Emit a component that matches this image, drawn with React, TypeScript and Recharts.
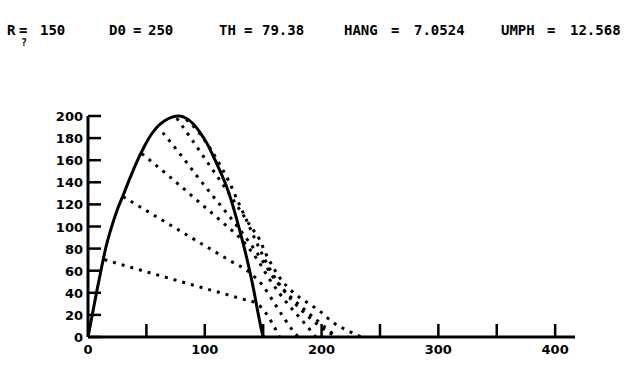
import React from 'react';
import { LineChart, Line, XAxis, YAxis } from 'recharts';

const headerTokens = [
  { t: 'R', x: 7 }, { t: '=', x: 19 }, { t: '150', x: 40 },
  { t: 'D0', x: 109 }, { t: '=', x: 133 }, { t: '250', x: 148 },
  { t: 'TH', x: 219 }, { t: '=', x: 244 }, { t: '79.38', x: 262 },
  { t: 'HANG', x: 344 }, { t: '=', x: 391 }, { t: '7.0524', x: 414 },
  { t: 'UMPH', x: 501 }, { t: '=', x: 547 }, { t: '12.568', x: 570 },
];

const xTicks = [0, 50, 100, 150, 200, 250, 300, 350, 400];
const xLabels = [0, 100, 200, 300, 400];
const yTicks = [0, 20, 40, 60, 80, 100, 120, 140, 160, 180, 200];

const outline = [
  { x: 0, y: 0 }, { x: 4, y: 22 }, { x: 8, y: 44 }, { x: 12, y: 65 }, { x: 16, y: 84 },
  { x: 20, y: 99 }, { x: 25, y: 115 }, { x: 30, y: 128 }, { x: 36, y: 144 }, { x: 42, y: 159 },
  { x: 48, y: 172 }, { x: 54, y: 183 }, { x: 60, y: 191 }, { x: 66, y: 196 }, { x: 72, y: 199 },
  { x: 78, y: 200 }, { x: 84, y: 198 }, { x: 90, y: 193 }, { x: 96, y: 185 }, { x: 102, y: 175 },
  { x: 108, y: 162 }, { x: 114, y: 148 }, { x: 119, y: 135 }, { x: 124, y: 119 }, { x: 128, y: 104 },
  { x: 133, y: 84 }, { x: 138, y: 62 }, { x: 142, y: 42 }, { x: 145, y: 25 }, { x: 148, y: 9 }, { x: 150, y: 0 },
];

const pathA = [
  { x: 14, y: 70 }, { x: 60, y: 56 }, { x: 100, y: 44 }, { x: 130, y: 35 }, { x: 145, y: 30 },
  { x: 152, y: 22 }, { x: 158, y: 12 }, { x: 164, y: 0 },
];
const pathB = [
  { x: 30, y: 127 }, { x: 60, y: 108 }, { x: 90, y: 89 }, { x: 120, y: 70 }, { x: 140, y: 57 },
  { x: 150, y: 46 }, { x: 160, y: 30 }, { x: 168, y: 17 }, { x: 176, y: 5 }, { x: 180, y: 0 },
];
const pathC = [
  { x: 46, y: 166 }, { x: 70, y: 145 }, { x: 93, y: 124 }, { x: 115, y: 104 }, { x: 135, y: 84 },
  { x: 145, y: 70 }, { x: 155, y: 53 }, { x: 165, y: 38 }, { x: 175, y: 25 }, { x: 185, y: 13 }, { x: 195, y: 0 },
];
const pathD = [
  { x: 64, y: 185 }, { x: 80, y: 164 }, { x: 96, y: 142 }, { x: 112, y: 121 }, { x: 128, y: 100 },
  { x: 140, y: 83 }, { x: 150, y: 68 }, { x: 160, y: 52 }, { x: 170, y: 40 }, { x: 182, y: 28 },
  { x: 195, y: 16 }, { x: 205, y: 7 }, { x: 213, y: 0 },
];
const pathE = [
  { x: 76, y: 198 }, { x: 90, y: 177 }, { x: 105, y: 154 }, { x: 120, y: 131 }, { x: 130, y: 115 },
  { x: 140, y: 99 }, { x: 147, y: 88 }, { x: 152, y: 76 }, { x: 158, y: 64 }, { x: 164, y: 54 },
  { x: 176, y: 40 }, { x: 188, y: 31 }, { x: 199, y: 23 }, { x: 210, y: 13 }, { x: 222, y: 6 }, { x: 234, y: 0 },
];
const pathF = [
  { x: 84, y: 197 }, { x: 95, y: 185 }, { x: 105, y: 170 }, { x: 114, y: 154 }, { x: 121, y: 140 },
  { x: 127, y: 126 }, { x: 133, y: 112 }, { x: 139, y: 98 }, { x: 145, y: 84 }, { x: 151, y: 71 },
  { x: 157, y: 59 }, { x: 165, y: 46 }, { x: 174, y: 34 }, { x: 185, y: 22 }, { x: 197, y: 11 },
  { x: 208, y: 3 }, { x: 213, y: 0 },
];

const dotted = [pathA, pathB, pathC, pathD, pathE, pathF];

const FONT = '"DejaVu Sans", sans-serif';

const XTick = (props: any) => {
  const { x, y, payload } = props;
  const v = payload.value;
  return (
    <g>
      {v !== 0 && <line x1={x} y1={y} x2={x} y2={y - 13} stroke="#000" strokeWidth={2.5} />}
      {xLabels.includes(v) && (
        <text x={x} y={y + 17} textAnchor="middle" fontFamily={FONT} fontWeight="bold" fontSize={13} fill="#000">
          {v}
        </text>
      )}
    </g>
  );
};

const YTick = (props: any) => {
  const { x, y, payload } = props;
  return (
    <g>
      <line x1={x} y1={y} x2={x + 13} y2={y} stroke="#000" strokeWidth={2.5} />
      <text x={x - 5} y={y + 5} textAnchor="end" fontFamily={FONT} fontWeight="bold" fontSize={13} fill="#000">
        {payload.value}
      </text>
    </g>
  );
};

export default function App() {
  return (
    <div style={{ position: 'absolute', left: 0, top: 0, width: 640, height: 384, background: '#fff' }}>
      {headerTokens.map((tk, i) => (
        <span
          key={i}
          style={{
            position: 'absolute', left: tk.x, top: 22, fontFamily: '"DejaVu Sans Mono", monospace',
            fontWeight: 'bold', fontSize: 14, lineHeight: '16px', color: '#000', whiteSpace: 'pre',
          }}
        >
          {tk.t}
        </span>
      ))}
      <span
        style={{
          position: 'absolute', left: 21, top: 38, fontFamily: '"DejaVu Sans Mono", monospace',
          fontWeight: 'bold', fontSize: 10, lineHeight: '10px', color: '#000',
        }}
      >
        ?
      </span>
      <div style={{ position: 'absolute', left: 0, top: 0 }}>
        <LineChart width={640} height={384} margin={{ top: 116, right: 65, bottom: 17, left: 48 }}>
          <XAxis
            type="number"
            dataKey="x"
            domain={[0, 417]}
            ticks={xTicks}
            allowDataOverflow
            tickSize={0}
            tickMargin={0}
            height={30}
            axisLine={{ stroke: '#000', strokeWidth: 3 }}
            tickLine={false}
            tick={<XTick />}
            interval={0}
          />
          <YAxis
            type="number"
            dataKey="y"
            domain={[0, 200]}
            ticks={yTicks}
            width={40}
            tickSize={0}
            tickMargin={0}
            axisLine={{ stroke: '#000', strokeWidth: 3 }}
            tickLine={false}
            tick={<YTick />}
            interval={0}
          />
          <Line
            data={outline}
            dataKey="y"
            type="monotone"
            stroke="#000"
            strokeWidth={3}
            dot={false}
            isAnimationActive={false}
          />
          {dotted.map((d, i) => (
            <Line
              key={i}
              data={d}
              dataKey="y"
              type="monotone"
              stroke="#000"
              strokeWidth={3}
              strokeDasharray="3 6"
              dot={false}
              isAnimationActive={false}
            />
          ))}
        </LineChart>
      </div>
    </div>
  );
}
